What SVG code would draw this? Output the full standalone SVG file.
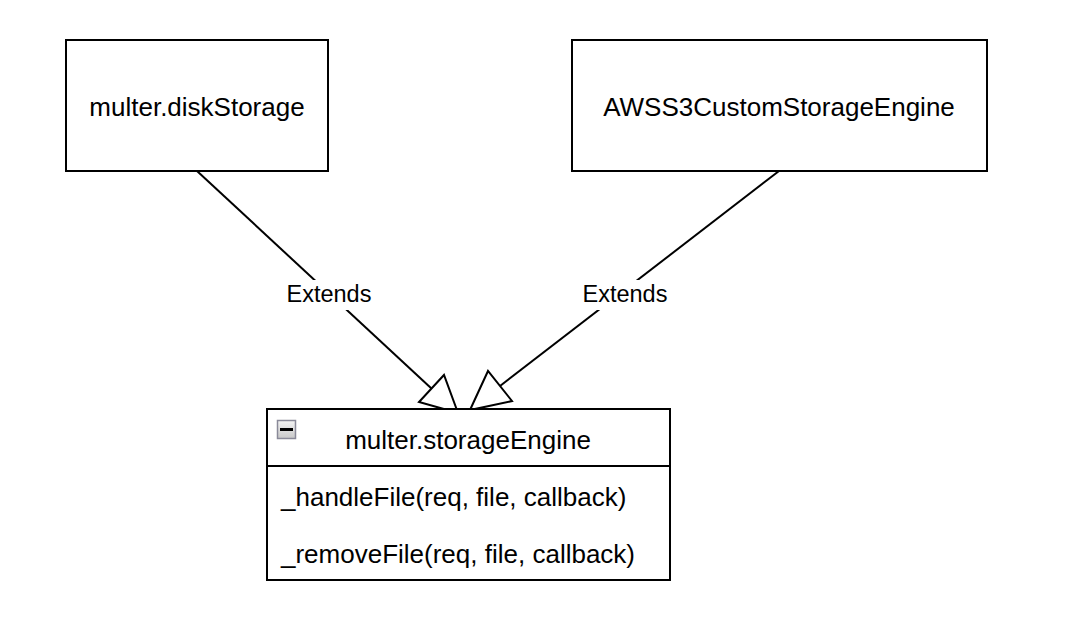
<svg xmlns="http://www.w3.org/2000/svg" width="1067" height="624" viewBox="0 0 1067 624">
<style>
.box{fill:#fff;stroke:#000;stroke-width:2}
.t{font-family:"Liberation Sans",Arial,sans-serif;font-size:26px;fill:#000}
.lbl{font-family:"Liberation Sans",Arial,sans-serif;font-size:23.5px;fill:#000}
.edge{fill:none;stroke:#000;stroke-width:2}
.head{fill:#fff;stroke:#000;stroke-width:2;stroke-linejoin:miter}
</style>
<defs>
<linearGradient id="ig" x1="0" y1="0" x2="0" y2="1">
<stop offset="0" stop-color="#f4f4f4"/>
<stop offset="1" stop-color="#c8c8c8"/>
</linearGradient>
</defs>
<rect width="1067" height="624" fill="#fff"/>
<g id="connectors">
<g id="edge1">
<line class="edge" x1="197" y1="171" x2="432" y2="389"/>
<polygon class="head" points="458,413 419,402 444,375"/>
<rect x="282" y="280" width="94" height="30" fill="#fff"/>
<text class="lbl" x="329" y="302" text-anchor="middle">Extends</text>
</g>
<g id="edge2">
<line class="edge" x1="779" y1="171" x2="500" y2="386"/>
<polygon class="head" points="470,410 488,371 512,401"/>
<rect x="578" y="280" width="94" height="30" fill="#fff"/>
<text class="lbl" x="625" y="302" text-anchor="middle">Extends</text>
</g>
</g>
<g id="diskStorage">
<rect class="box" x="66" y="40" width="262" height="131"/>
<text class="t" x="197" y="116" text-anchor="middle">multer.diskStorage</text>
</g>
<g id="awsS3">
<rect class="box" x="572" y="40" width="415" height="131"/>
<text class="t" x="779" y="116" text-anchor="middle">AWSS3CustomStorageEngine</text>
</g>
<g id="storageEngine">
<rect class="box" x="267" y="409" width="403" height="171"/>
<line class="edge" x1="267" y1="466" x2="670" y2="466"/>
<rect x="277.5" y="420.5" width="18" height="18" fill="url(#ig)" stroke="#8a8a99" stroke-width="1.5"/>
<rect x="280" y="428" width="13" height="3" fill="#000"/>
<text class="t" x="468" y="449" text-anchor="middle">multer.storageEngine</text>
<text class="t" x="281" y="506">_handleFile(req, file, callback)</text>
<text class="t" x="281" y="563">_removeFile(req, file, callback)</text>
</g>
</svg>
